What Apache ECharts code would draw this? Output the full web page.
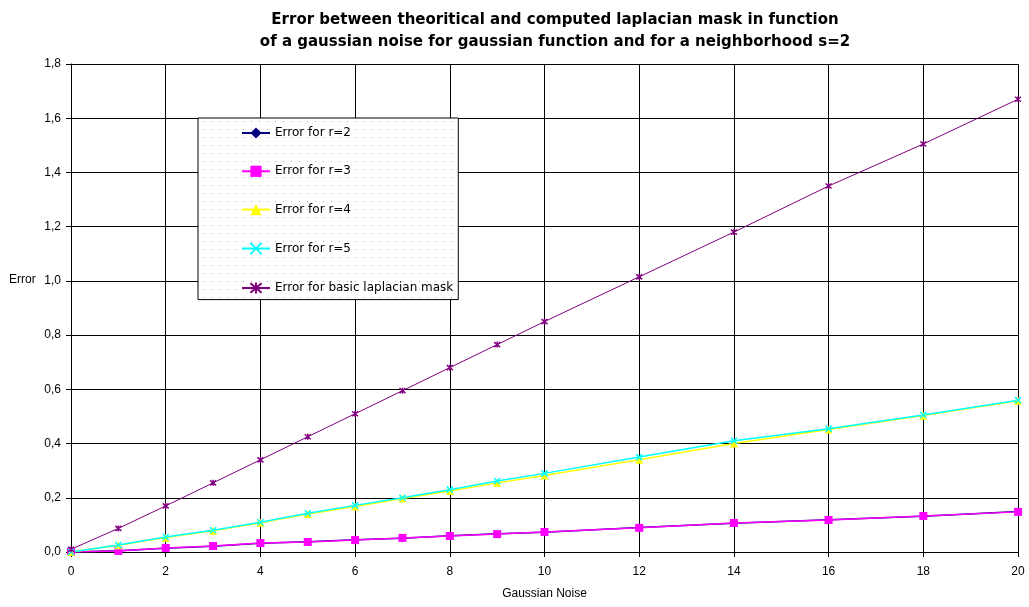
<!DOCTYPE html>
<html>
<head>
<meta charset="utf-8">
<script src="https://cdn.jsdelivr.net/npm/echarts@6/dist/echarts.min.js"></script>
<style>html,body{margin:0;padding:0;background:#fff}#c{width:1029px;height:607px}</style>
</head>
<body>
<div id="c"></div>
<script>
var xValues = [0,1,2,3,4,5,6,7,8,9,10,12,14,16,18,20];
var errR2 = [0.0,0.005,0.014,0.021,0.032,0.038,0.045,0.051,0.060,0.067,0.073,0.090,0.106,0.119,0.132,0.149];
var errR3 = [0.0,0.004,0.015,0.022,0.033,0.037,0.044,0.052,0.059,0.066,0.074,0.089,0.107,0.118,0.133,0.148];
var errR4 = [0.0,0.025,0.053,0.078,0.108,0.140,0.168,0.197,0.225,0.255,0.282,0.340,0.400,0.452,0.503,0.558];
var errR5 = [0.0,0.026,0.055,0.080,0.110,0.143,0.172,0.200,0.230,0.262,0.290,0.350,0.410,0.455,0.505,0.560];
var errBasic = [0.01,0.087,0.17,0.255,0.34,0.425,0.51,0.595,0.68,0.765,0.85,1.015,1.18,1.35,1.505,1.67];
var seriesNames = ['Error for r=2','Error for r=3','Error for r=4','Error for r=5','Error for basic laplacian mask'];
var titleLines = ['Error between theoritical and computed laplacian mask in function','of a gaussian noise for gaussian function and for a neighborhood s=2'];
var xAxisName = 'Gaussian Noise';
var yAxisName = 'Error';

function pairs(ys){ return xValues.map(function(x,i){ return [x, ys[i]]; }); }

// dotted legend background
var pc = document.createElement('canvas');
pc.width = 8; pc.height = 8;
var pctx = pc.getContext('2d');
pctx.fillStyle = '#ffffff'; pctx.fillRect(0,0,8,8);
pctx.fillStyle = '#b0b0b0'; pctx.fillRect(2,2,1,1);

var FONT = 'Liberation Sans, Arial, sans-serif';
var WIDE = 'DejaVu Sans, Verdana, sans-serif';
var chart = echarts.init(document.getElementById('c'), null, {renderer:'canvas'});
var xShape = 'path://M0,0L10,10M10,0L0,10';
var starShape = 'path://M0,0L10,10M10,0L0,10M5,-1L5,11';

function mk(name, data, color, symbol, size, lw, stroked){
  return {
    name: name, type: 'line', data: pairs(data),
    symbol: symbol, symbolSize: size, showSymbol: true,
    lineStyle: {color: color, width: lw},
    itemStyle: stroked ? {color: 'rgba(0,0,0,0)', borderColor: color, borderWidth: 1.5} : {color: color, borderWidth: 0},
    emphasis: {disabled: true},
    animation: false, z: 3
  };
}

chart.setOption({
  backgroundColor: '#ffffff',
  animation: false,
  title: {
    text: titleLines.join('\n'),
    left: 550, top: 4, textAlign: 'center',
    textStyle: {fontFamily: WIDE, fontSize: 15, fontWeight: 'bold', color: '#000', lineHeight: 22}
  },
  legend: {
    orient: 'vertical', left: 198, top: 118,
    padding: [9, 5, 5, 43],
    itemWidth: 28, itemHeight: 14, itemGap: 26.3,
    backgroundColor: {image: pc, repeat: 'repeat'},
    borderColor: '#000', borderWidth: 1,
    textStyle: {fontFamily: WIDE, fontSize: 12, color: '#000'},
    data: seriesNames
  },
  graphic: [{
    type: 'text', left: 9, top: 274,
    style: {text: yAxisName, font: '12px ' + FONT, fill: '#000'}
  }],
  grid: {left: 71, right: 11, top: 64, bottom: 55, containLabel: false, outerBoundsMode: 'none'},
  xAxis: {
    type: 'value', min: 0, max: 20, interval: 2,
    name: xAxisName, nameLocation: 'middle', nameGap: 36,
    nameTextStyle: {fontFamily: FONT, fontSize: 12, color: '#000'},
    axisLine: {lineStyle: {color: '#000', width: 1}},
    axisTick: {show: true, length: 5, lineStyle: {color: '#000'}},
    axisLabel: {fontFamily: FONT, fontSize: 12, color: '#000', margin: 14},
    splitLine: {show: true, lineStyle: {color: '#000', width: 1}}
  },
  yAxis: {
    type: 'value', min: 0, max: 1.8, interval: 0.2,
    axisLine: {show: true, lineStyle: {color: '#000', width: 1}},
    axisTick: {show: true, length: 5, lineStyle: {color: '#000'}},
    axisLabel: {fontFamily: FONT, fontSize: 12, color: '#000', margin: 10,
      formatter: function(v){ return v.toFixed(1).replace('.', ','); }},
    splitLine: {show: true, lineStyle: {color: '#000', width: 1}}
  },
  series: [
    mk(seriesNames[0], errR2, '#000080', 'diamond', 8, 1.5, false),
    mk(seriesNames[1], errR3, '#ff00ff', 'rect', 8, 1.5, false),
    mk(seriesNames[2], errR4, '#ffff00', 'triangle', 8, 1.5, false),
    mk(seriesNames[3], errR5, '#00ffff', xShape, 6, 1.5, true),
    mk(seriesNames[4], errBasic, '#800080', starShape, 6, 1, true)
  ]
});
</script>
</body>
</html>
